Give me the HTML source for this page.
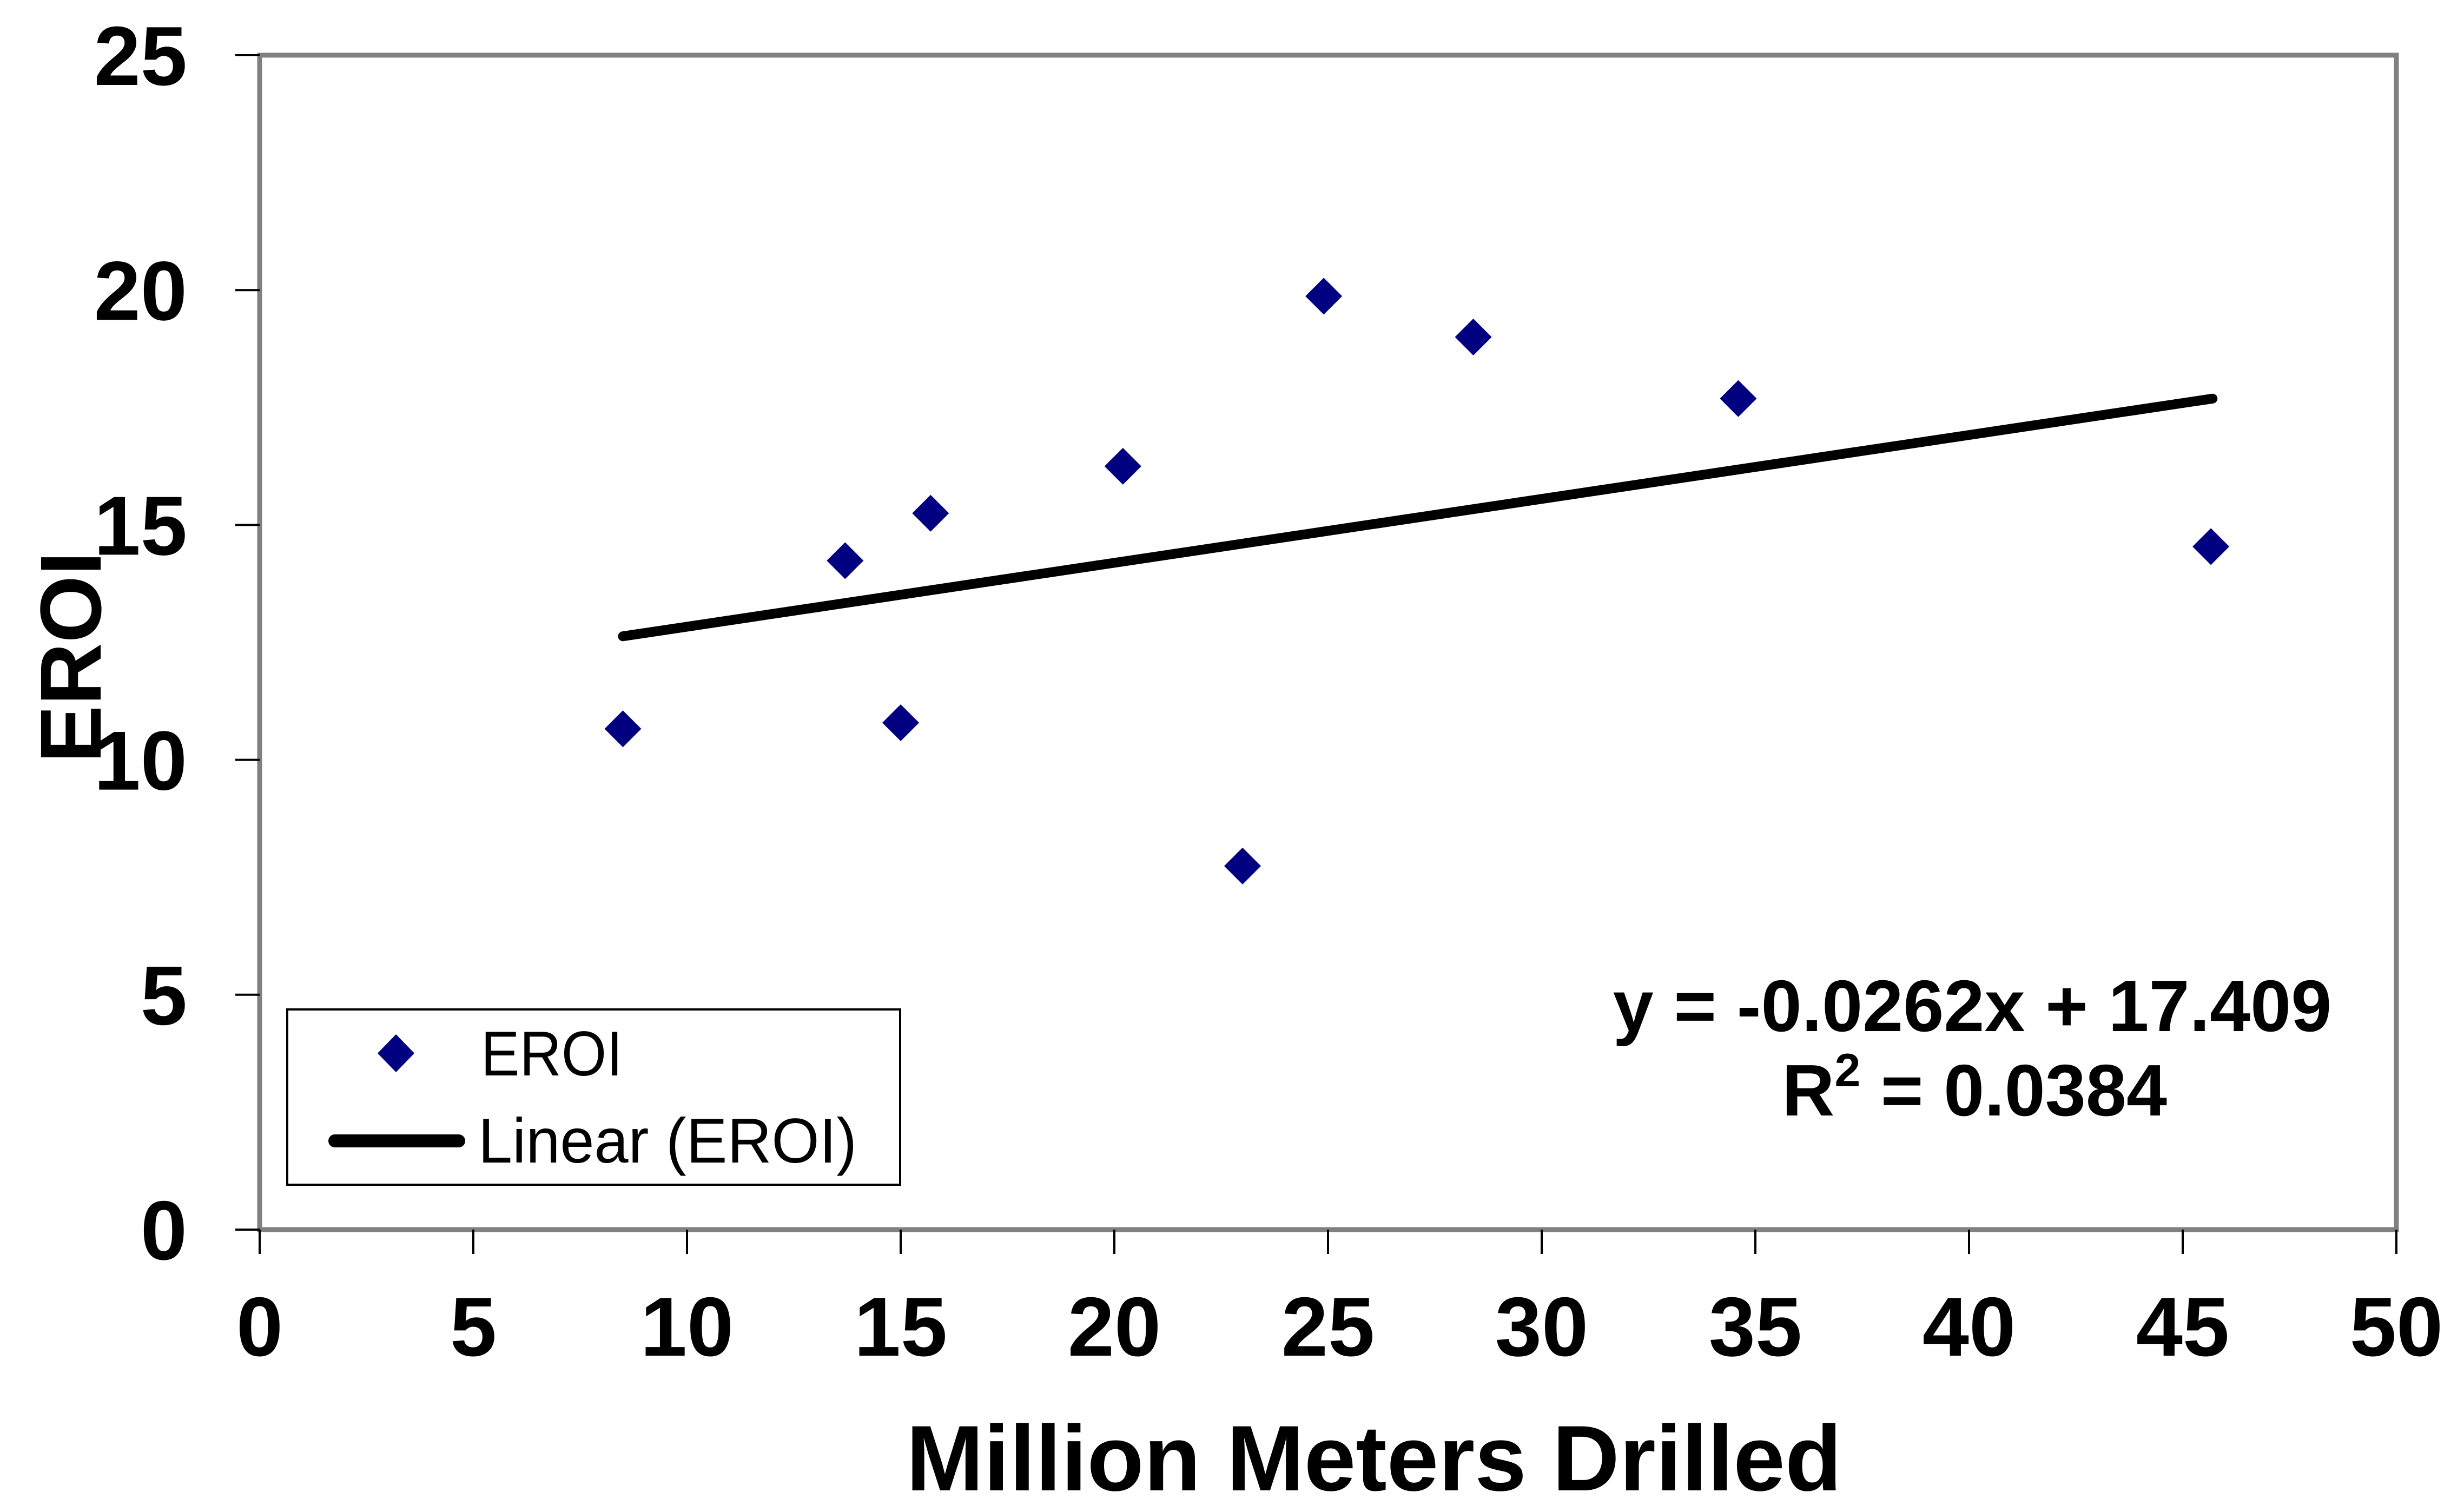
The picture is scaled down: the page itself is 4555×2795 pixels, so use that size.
<!DOCTYPE html>
<html><head><meta charset="utf-8"><style>
html,body{margin:0;padding:0;background:#fff;}
svg{display:block;font-family:"Liberation Sans",Arial,sans-serif;}
</style></head><body>
<svg id="chart" width="4555" height="2795" viewBox="0 0 4555 2795" xmlns="http://www.w3.org/2000/svg">
<rect x="0" y="0" width="4555" height="2795" fill="#fff"/>
<g id="grid"></g>
<rect x="480" y="102" width="3950" height="2171" fill="none" stroke="#808080" stroke-width="9"/>
<g id="axes"></g>
<g id="marks"></g>
<text x="2540" y="2755" text-anchor="middle" font-weight="bold" font-size="172">Million Meters Drilled</text>
<text transform="translate(186,1215) rotate(-90)" text-anchor="middle" font-weight="bold" font-size="160">EROI</text>
<text x="3646" y="1906" text-anchor="middle" font-weight="bold" font-size="135">y = -0.0262x + 17.409</text>
<text x="3650" y="2062" text-anchor="middle" font-weight="bold" font-size="135">R<tspan font-size="86" dy="-54">2</tspan><tspan dy="54"> = 0.0384</tspan></text>
<g>
<rect x="531" y="1866" width="1133" height="324" fill="#fff" stroke="#000" stroke-width="4"/>
<path d="M732 1912 L766 1947 L732 1982 L698 1947 Z" fill="#000080"/>
<text x="889" y="1988" font-size="117" textLength="262" lengthAdjust="spacingAndGlyphs">EROI</text>
<line x1="619" y1="2109" x2="848" y2="2109" stroke="#000" stroke-width="24" stroke-linecap="round"/>
<text x="884" y="2149" font-size="117" textLength="700" lengthAdjust="spacingAndGlyphs">Linear (EROI)</text>
</g>
</svg>
<script>
const xTicks = [0,5,10,15,20,25,30,35,40,45,50];
const yTicks = [0,5,10,15,20,25];
const xValues = [8.5,13.7,15.0,15.7,20.2,23.0,24.9,28.4,34.6,45.66];
const yValues = [10.66,14.24,10.79,15.25,16.25,7.74,19.87,19.0,17.69,14.54];
const trendX = [8.5,45.7];
const trendY = [12.63,17.69];

const NS = "http://www.w3.org/2000/svg";
const X0=480, X1=4430, Y0=2273, Y1=102;
function sx(v){return X0+(v-0)/(50-0)*(X1-X0);}
function sy(v){return Y0-(v-0)/(25-0)*(Y0-Y1);}
function mk(tag,attrs,parent){const e=document.createElementNS(NS,tag);for(const k in attrs)e.setAttribute(k,attrs[k]);parent.appendChild(e);return e;}
const axes=document.getElementById('axes');
const marks=document.getElementById('marks');

xTicks.forEach(t=>{
  const l=mk('line',{x1:sx(t),x2:sx(t),y1:Y0,y2:Y0+45,stroke:'#000','stroke-width':4},axes);
  
  
  const tx=mk('text',{x:sx(t),y:2506,'text-anchor':'middle','font-weight':'bold','font-size':155},axes);
  tx.textContent=t;
  
  
});
yTicks.forEach(t=>{
  const l=mk('line',{x1:X0-45,x2:X0,y1:sy(t),y2:sy(t),stroke:'#000','stroke-width':4},axes);
  
  
  const tx=mk('text',{x:346,y:sy(t)+55,'text-anchor':'end','font-weight':'bold','font-size':155},axes);
  tx.textContent=t;
  
  
});
const tl=mk('line',{x1:sx(trendX[0]),y1:sy(trendY[0]),x2:sx(trendX[1]),y2:sy(trendY[1]),stroke:'#000','stroke-width':18,'stroke-linecap':'round'},marks);


xValues.forEach((xv,i)=>{
  const cx=sx(xv), cy=sy(yValues[i]), r=34;
  const p=mk('path',{d:`M${cx} ${cy-r} L${cx+r} ${cy} L${cx} ${cy+r} L${cx-r} ${cy} Z`,fill:'#000080'},marks);
  
  
});
</script>
</body></html>
